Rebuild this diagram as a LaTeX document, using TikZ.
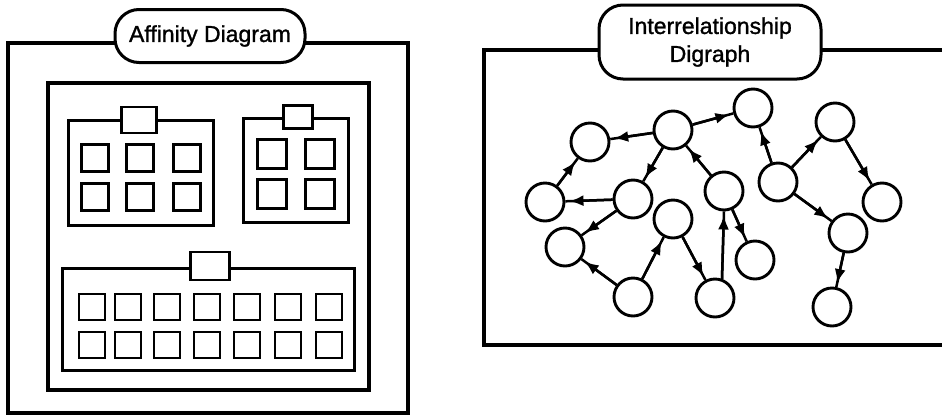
\documentclass[tikz,border=0pt]{standalone}
\usepackage{fontspec}
\setmainfont{Liberation Sans}
\newfontfamily\labfont[FakeBold=1.2]{Liberation Sans}
\usetikzlibrary{arrows.meta}
\tikzset{
  frame/.style={draw, line width=3.2pt},
  grp/.style={draw, line width=3pt},
  sq/.style={draw, line width=2.9pt, minimum size=27pt, inner sep=0pt},
  hdr/.style={draw, line width=2.9pt, fill=white, inner sep=0pt},
  pill/.style={draw, line width=3pt, fill=white, rounded corners=24pt, font=\labfont\fontsize{23}{28}\selectfont, align=center, inner sep=0pt},
  nd/.style={circle, draw, line width=2.9pt, minimum size=38pt, inner sep=0pt},
  edge/.style={line width=2.5pt, postaction={draw, -{Latex[length=14pt,width=11pt]}, shorten >=4pt}}
}
\begin{document}
\begin{tikzpicture}[x=1pt,y=-1pt]
\clip (0,0) rectangle (942,416);
\fill[white] (0,0) rectangle (942,416);
% ---------- Left panel ----------
\draw[frame] (8,43) rectangle (408,413);
\node[pill, minimum width=190pt, minimum height=53pt] (lab1) at (210,36) {Affinity Diagram};
\draw[frame] (48,83) rectangle (369,390);
% group 1
\draw[grp] (68,120) rectangle (213,225);
\node[hdr, minimum width=35pt, minimum height=26pt] (h1) at (139,120) {};
\foreach \c [count=\i] in {95,140,187}{
  \foreach \r [count=\j] in {158,197}{
    \node[sq] (ga\i\j) at (\c,\r) {};
  }
}
% group 2
\draw[grp] (243,118) rectangle (348,222);
\node[hdr, minimum width=29pt, minimum height=23pt] (h2) at (298,117) {};
\foreach \c [count=\i] in {272,320}{
  \foreach \r [count=\j] in {154,194}{
    \node[sq, minimum size=29pt] (gb\i\j) at (\c,\r) {};
  }
}
% group 3
\draw[grp] (62,268) rectangle (354,370);
\node[hdr, minimum width=39pt, minimum height=28pt] (h3) at (210,266) {};
\foreach \c [count=\i] in {92,128,167,207,247,288,329}{
  \foreach \r [count=\j] in {307,345}{
    \node[sq, minimum size=26pt] (gc\i\j) at (\c,\r) {};
  }
}
% ---------- Right panel ----------
\draw[frame] (484,50) rectangle (960,345);
\node[pill, minimum width=222pt, minimum height=74pt] (lab2) at (710,42) {Interrelationship\\Digraph};
\node[nd] (A) at (590,142) {};
\node[nd] (B) at (545,202) {};
\node[nd] (C) at (633,199) {};
\node[nd] (D) at (673,130) {};
\node[nd] (E) at (565,247) {};
\node[nd] (F) at (673,219) {};
\node[nd] (G) at (724,191) {};
\node[nd] (H) at (633,297) {};
\node[nd] (I) at (715,298) {};
\node[nd] (J) at (755,260) {};
\node[nd] (K) at (753,108) {};
\node[nd] (L) at (778,182) {};
\node[nd] (M) at (835,122) {};
\node[nd] (N) at (882,202) {};
\node[nd] (O) at (848,233) {};
\node[nd] (P) at (832,307) {};
\draw[edge] (D) -- (A);
\draw[edge] (B) -- (A);
\draw[edge] (C) -- (B);
\draw[edge] (D) -- (C);
\draw[edge] (C) -- (E);
\draw[edge] (H) -- (E);
\draw[edge] (H) -- (F);
\draw[edge] (F) -- (I);
\draw[edge] (I.70) -- (G.south);
\draw[edge] (G) -- (J);
\draw[edge] (G) -- (D);
\draw[edge] (D) -- (K);
\draw[edge] (L) -- (K);
\draw[edge] (L) -- (M);
\draw[edge] (M) -- (N);
\draw[edge] (L) -- (O);
\draw[edge] (O) -- (P);
\end{tikzpicture}
\end{document}
